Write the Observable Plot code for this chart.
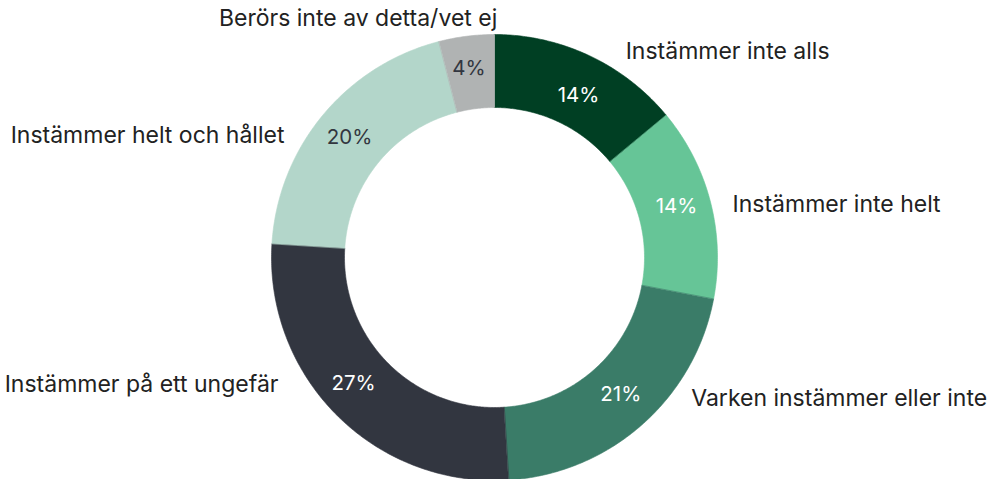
<!DOCTYPE html>
<html>
<head>
<meta charset="utf-8">
<script src="https://cdn.jsdelivr.net/npm/d3@7"></script>
<script src="https://cdn.jsdelivr.net/npm/@observablehq/plot@0.6"></script>
<style>
  html, body { margin: 0; padding: 0; background: #fff; }
  #chart svg { display: block; }
</style>
</head>
<body>
<div id="chart"></div>
<script>
// ---- data ----
const categories = [
  "Instämmer inte alls",
  "Instämmer inte helt",
  "Varken instämmer eller inte",
  "Instämmer på ett ungefär",
  "Instämmer helt och hållet",
  "Berörs inte av detta/vet ej"
];
const values = [14, 14, 21, 27, 20, 4];
const valueLabels = ["14%", "14%", "21%", "27%", "20%", "4%"];

// ---- style ----
const colors = ["#003f23", "#66c597", "#3a7c68", "#323640", "#b3d6ca", "#b0b3b3"];
const pctColors = ["#ffffff", "#ffffff", "#ffffff", "#ffffff", "#323640", "#323640"];
const labelSide = ["start", "start", "start", "end", "end", "end"];
// extra nudges (px) for the outer labels and percentage labels
const labelNudge = [[-33, -36], [0, -6], [4, 0], [-17, -6], [-2, -2], [145, -52]];
const pctNudge = [[4, 8], [0, -4], [2, -4], [-8, -7], [0, 0], [-2, -3]];

const W = 987, H = 479;
const cx = 494, cy = 257;
const R = 223, r0 = 150, rMid = 188, pad = 20;

const pie = d3.pie().sort(null).value(d => d)(values);

// polygons of the ring segments (clockwise from 12 o'clock, y down)
const segs = [];
pie.forEach((p, i) => {
  const n = Math.max(8, Math.ceil((p.endAngle - p.startAngle) / 0.01));
  const pts = [];
  for (let k = 0; k <= n; k++) {
    const a = p.startAngle + (p.endAngle - p.startAngle) * k / n;
    pts.push([R * Math.sin(a), -R * Math.cos(a)]);
  }
  for (let k = n; k >= 0; k--) {
    const a = p.startAngle + (p.endAngle - p.startAngle) * k / n;
    pts.push([r0 * Math.sin(a), -r0 * Math.cos(a)]);
  }
  pts.forEach(([x, y], j) => segs.push({cat: categories[i], i, j, x, y}));
});

const mids = pie.map((p, i) => {
  const a = (p.startAngle + p.endAngle) / 2;
  return {i, x: rMid * Math.sin(a), y: -rMid * Math.cos(a)};
});
const pct = mids.map((d, i) => ({i, label: valueLabels[i], x: d.x + pctNudge[i][0], y: d.y + pctNudge[i][1]}));

const labels = mids.map((d, i) => {
  const edge = Math.sqrt(Math.max(0, R * R - d.y * d.y)) + pad;
  const sx = labelSide[i] === "start" ? edge : -edge;
  return {i, text: categories[i], x: sx + labelNudge[i][0], y: d.y + labelNudge[i][1], anchor: labelSide[i]};
});

const chart = Plot.plot({
  width: W,
  height: H,
  margin: 0,
  x: {domain: [-cx, W - cx], range: [0, W], axis: null},
  y: {domain: [-cy, H - cy], range: [0, H], axis: null},
  style: {fontFamily: "Inter, 'Noto Sans', sans-serif", background: "#fff"},
  marks: [
    Plot.line(segs, {x: "x", y: "y", z: "cat", fill: d => colors[d.i], stroke: d => colors[d.i], strokeWidth: 0.6, curve: "linear-closed"}),
    Plot.text(pct, {x: "x", y: "y", text: "label", fill: d => pctColors[d.i], fontSize: 20.5, textAnchor: "middle"}),
    Plot.text(labels.filter(d => d.anchor === "start"), {x: "x", y: "y", text: "text", fill: "#222", fontSize: 23, textAnchor: "start"}),
    Plot.text(labels.filter(d => d.anchor === "end"), {x: "x", y: "y", text: "text", fill: "#222", fontSize: 23, textAnchor: "end"})
  ]
});
document.getElementById("chart").appendChild(chart);
</script>
</body>
</html>
